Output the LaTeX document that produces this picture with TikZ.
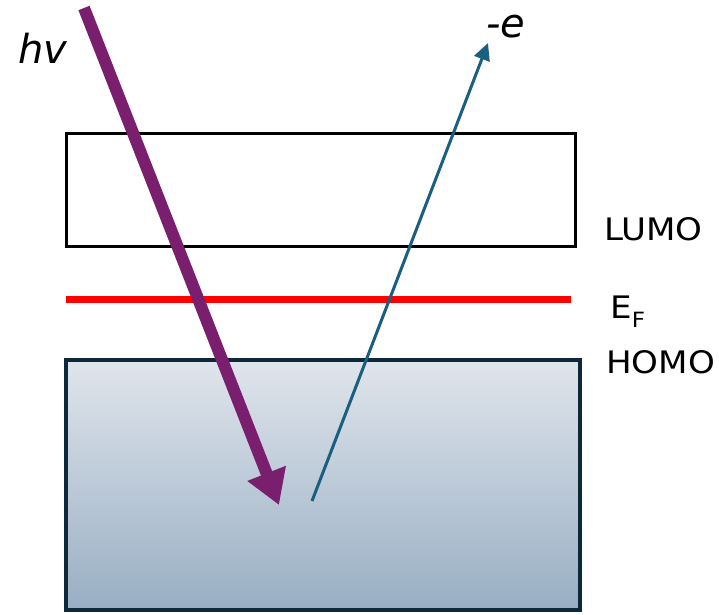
\documentclass[tikz,border=0pt]{standalone}
\usepackage{fontspec}
\setmainfont{DejaVu Sans}
\newfontfamily\widesans[FakeStretch=1.1]{DejaVu Sans}
\usetikzlibrary{arrows.meta}
\definecolor{photon}{HTML}{7A1F6E}
\definecolor{electron}{HTML}{1A5E80}
\definecolor{homoborder}{HTML}{0D2838}
\definecolor{homotop}{HTML}{E0E5EC}
\definecolor{homobot}{HTML}{98AEC3}
\tikzset{
  lbl/.style={inner sep=0pt, anchor=base west, font=\widesans\fontsize{31}{36}\selectfont},
  biglbl/.style={inner sep=0pt, anchor=base west, font=\fontsize{40}{46}\selectfont\itshape},
}
\begin{document}
\begin{tikzpicture}[x=1pt,y=-1pt]
\useasboundingbox (0,0) rectangle (719,614);
% LUMO box
\node (lumo) [draw=black, line width=3pt, fill=white, minimum width=509pt, minimum height=113pt, inner sep=0pt] at (320.5,189.5) {};
% Fermi level
\coordinate (efl) at (66,299);
\coordinate (efr) at (571,299);
\draw[red, line width=7pt] (efl) -- (efr);
% HOMO box
\node (homo) [draw=homoborder, line width=4pt, top color=homotop, bottom color=homobot, minimum width=514pt, minimum height=250pt, inner sep=0pt] at (323,485) {};
% labels
\node (lumolbl) [lbl] at (604,240) {LUMO};
\node (eflbl) [lbl] at (610,318) {E\raisebox{-0.3em}{\fontsize{21}{24}\selectfont F}};
\node (homolbl) [lbl] at (606,373) {HOMO};
\node (hv) [biglbl] at (18,63) {hv};
\node (el) [biglbl] at (486,37) {-e};
% photon arrow
\coordinate (ps) at (84,8);
\coordinate (pe) at (279,505);
\draw[photon, line width=12pt, -{Triangle[length=34pt,width=39pt]}] (ps) -- (pe);
% electron arrow
\coordinate (es) at (312,501);
\coordinate (ee) at (488,43);
\draw[electron, line width=3pt, -{Triangle[length=17pt,width=16pt]}] (es) -- (ee);
\end{tikzpicture}
\end{document}
